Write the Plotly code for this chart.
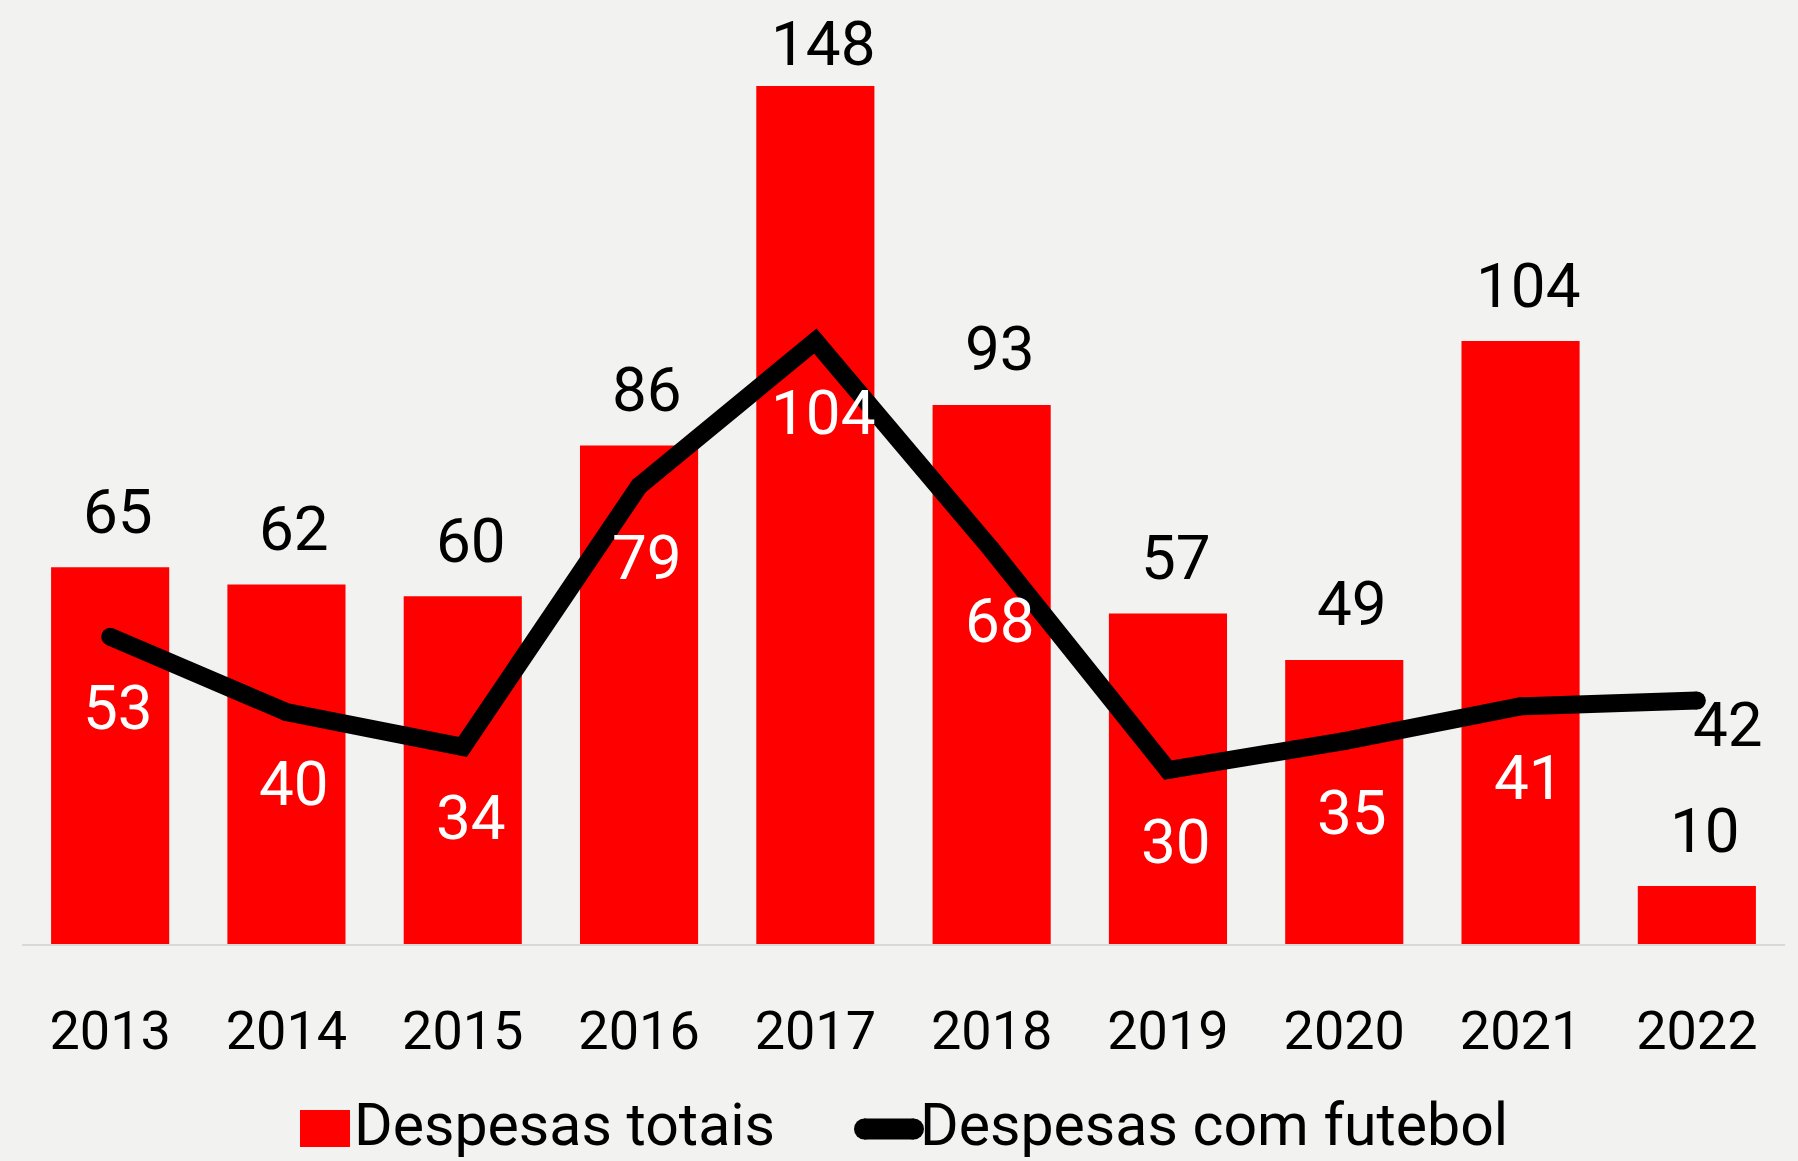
import plotly.graph_objects as go

years = ["2013", "2014", "2015", "2016", "2017", "2018", "2019", "2020", "2021", "2022"]
despesas_totais = [65, 62, 60, 86, 148, 93, 57, 49, 104, 10]
despesas_futebol = [53, 40, 34, 79, 104, 68, 30, 35, 41, 42]
legend_labels = ["Despesas totais", "Despesas com futebol"]

RED = "#ff0000"
BG = "#f2f2f1"
FONT = "Roboto"

W, H = 1798, 1161
ML, MR, MT, MB = 22, 13, 20, 217
plot_h = H - MT - MB
px_per_unit = 5.797
ymax = plot_h / px_per_unit
LW = 18
LABEL_DX = 8

fig = go.Figure()
fig.add_trace(go.Bar(x=years, y=despesas_totais, marker_color=RED, marker_line_width=0,
                     name=legend_labels[0], showlegend=False, hoverinfo="x+y"))
fig.add_trace(go.Scatter(x=years, y=despesas_futebol, mode="lines+markers",
                         line=dict(color="black", width=LW),
                         marker=dict(color="black", size=LW, line_width=0),
                         name=legend_labels[1], showlegend=False))

annotations = []
# bar value labels above bars
for i, v in enumerate(despesas_totais):
    top_px = (ymax - v) * px_per_unit
    ys = min(56, top_px - 24)
    annotations.append(dict(x=i, y=v, xref="x", yref="y", text=str(v), showarrow=False,
                            yshift=ys, xshift=LABEL_DX,
                            font=dict(family=FONT, size=62, color="black")))
# line value labels
for i, (v, t) in enumerate(zip(despesas_futebol, despesas_totais)):
    inside = v < t
    annotations.append(dict(x=i, y=v, xref="x", yref="y", text=str(v), showarrow=False,
                            yshift=-71 if inside else -24,
                            xshift=LABEL_DX if inside else 31,
                            font=dict(family=FONT, size=62, color="white" if inside else "black")))

# custom legend
plot_w = W - ML - MR
def px2x(px):
    return (px - ML) / plot_w
def py2y(py):
    return (H - MB - py) / plot_h

leg_y = py2y(1124)
annotations.append(dict(x=px2x(352), y=leg_y, xref="paper", yref="paper", text=legend_labels[0],
                        showarrow=False, xanchor="left", yanchor="middle",
                        font=dict(family=FONT, size=59, color="black")))
annotations.append(dict(x=px2x(918), y=leg_y, xref="paper", yref="paper", text=legend_labels[1],
                        showarrow=False, xanchor="left", yanchor="middle",
                        font=dict(family=FONT, size=59, color="black")))
shapes = [
    dict(type="rect", xref="paper", yref="paper", x0=px2x(300), x1=px2x(350),
         y0=py2y(1147), y1=py2y(1110), fillcolor=RED, line_width=0),
    dict(type="line", xref="paper", yref="paper", x0=px2x(864), x1=px2x(914),
         y0=py2y(1129), y1=py2y(1129), line=dict(color="black", width=21)),
    dict(type="circle", xref="paper", yref="paper", x0=px2x(854), x1=px2x(875),
         y0=py2y(1139.5), y1=py2y(1118.5), fillcolor="black", line_width=0),
    dict(type="circle", xref="paper", yref="paper", x0=px2x(903), x1=px2x(924),
         y0=py2y(1139.5), y1=py2y(1118.5), fillcolor="black", line_width=0),
]

fig.update_layout(
    width=W, height=H,
    margin=dict(l=ML, r=MR, t=MT, b=MB, pad=0),
    paper_bgcolor=BG, plot_bgcolor=BG,
    bargap=0.33,
    showlegend=False,
    annotations=annotations,
    shapes=shapes,
    xaxis=dict(type="category", range=[-0.5, len(years) - 0.5], showgrid=False, showline=True,
               linecolor="#d9d9d9", linewidth=2,
               ticks="outside", ticklen=38, tickcolor="rgba(0,0,0,0)",
               tickfont=dict(family=FONT, size=54, color="black"), zeroline=False),
    yaxis=dict(range=[0, ymax], visible=False, showgrid=False, zeroline=False),
)

fig.write_html(
    "out.html",
    config={"displayModeBar": False},
    post_script="document.body.style.margin='0';document.body.style.overflow='hidden';"
                "document.body.style.background='" + BG + "';",
)
